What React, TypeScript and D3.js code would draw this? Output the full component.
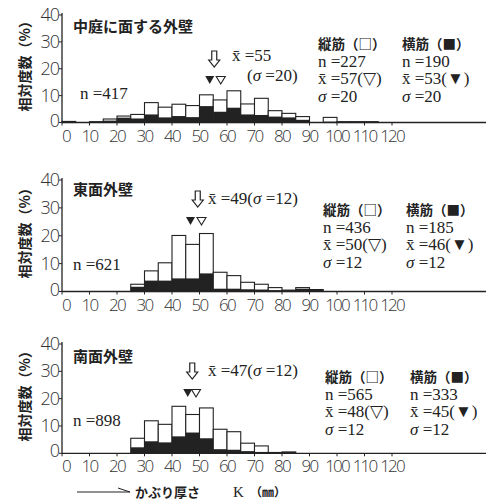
import React from 'react';
import * as d3 from 'd3';

// bin starts (5 mm wide) for cover thickness K
const binStarts = d3.range(0, 120, 5);
const xTicks = d3.range(0, 130, 10);
const yTicks = [0, 10, 20, 30, 40];

// panel 1: 中庭に面する外壁  (total = 縦筋 + 横筋, black = 横筋), %
const courtTotal = [0.4, 0, 0.3, 1.3, 2.4, 3.0, 7.4, 5.7, 6.8, 6.3, 10.3, 8.4, 11.8, 6.9, 9.0, 4.4, 3.4, 2.2, 0, 1.9, 0.3, 0.3, 0.3, 0];
const courtBlack = [0.4, 0, 0.3, 0.7, 1.8, 1.5, 3.0, 1.9, 2.4, 2.0, 6.1, 4.0, 5.5, 3.0, 2.8, 2.2, 1.9, 1.0, 0, 0.3, 0.3, 0.3, 0.3, 0];

// panel 2: 東面外壁
const eastTotal = [0, 0, 0, 0, 0, 2.6, 7.4, 10.3, 20.1, 16.9, 20.8, 6.9, 5.7, 3.3, 2.6, 1.4, 0.5, 1.4, 0.7, 0, 0, 0, 0, 0];
const eastBlack = [0, 0, 0, 0, 0, 1.7, 3.9, 3.9, 4.7, 4.7, 6.5, 1.0, 1.0, 0.8, 0.7, 0.5, 0.5, 1.0, 0.7, 0, 0, 0, 0, 0];

// panel 3: 南面外壁
const southTotal = [0, 0, 0, 0, 0, 5.5, 11.9, 10.6, 17.2, 14.2, 16.6, 8.8, 7.9, 3.7, 2.7, 0.3, 0.5, 0, 0, 0, 0, 0, 0, 0];
const southBlack = [0, 0, 0, 0, 0, 2.2, 4.4, 4.0, 6.2, 7.6, 5.5, 1.5, 1.3, 0.8, 0.5, 0.3, 0.5, 0, 0, 0, 0, 0, 0, 0];

const panelTitles = ['中庭に面する外壁', '東面外壁', '南面外壁'];
const panelN = [417, 621, 898];
const panelMean = [55, 49, 47];
const panelSigma = [20, 12, 12];
const verticalStats = [[227, 57, 20], [436, 50, 12], [565, 48, 12]]; // n, mean, sigma (縦筋)
const horizontalStats = [[190, 53, 20], [185, 46, 12], [333, 45, 12]]; // 横筋

const serif = '"Liberation Serif", "DejaVu Serif", serif';
const thin = '"Open Sans", "DejaVu Sans", sans-serif';
const jp = '"Noto Sans CJK JP", sans-serif';

const x = d3.scaleLinear().domain([0, 120]).range([62, 392]);

const Sigma = () => <tspan fontStyle="italic">σ</tspan>;

const Panel = ({ idx, total, black, top, bottom, titleY, nY, legendY, meanY, legendX }) => {
  const y = d3.scaleLinear().domain([0, 40]).range([bottom, top]);
  const w = x(5) - x(0);
  const mean = panelMean[idx];
  const [vn, vm, vs] = verticalStats[idx];
  const [hn, hm, hs] = horizontalStats[idx];
  const mx = x(mean) + 1;
  const triY = meanY + (idx === 0 ? 15 : 13);
  const arrowTop = meanY - (idx === 0 ? 10 : 13);
  const lh = 17.5;
  return (
    <g>
      {/* y-axis label */}
      <text transform={`translate(30,${(top + bottom) / 2 - 6}) rotate(-90)`} textAnchor="middle"
        fontFamily={jp} fontWeight={700} fontSize={14} fill="#222">相対度数（%）</text>
      {/* bars */}
      {binStarts.map((b, i) => total[i] > 0 && (
        <rect key={'t' + i} x={x(b)} y={y(total[i])} width={w} height={bottom - y(total[i])}
          fill="#fff" stroke="#222" strokeWidth={1.1} />
      ))}
      {binStarts.map((b, i) => black[i] > 0 && (
        <rect key={'b' + i} x={x(b)} y={y(black[i])} width={w} height={bottom - y(black[i])} fill="#222" />
      ))}
      {/* axes */}
      <line x1={x(0)} x2={x(0)} y1={top - 2} y2={bottom} stroke="#222" strokeWidth={1.3} />
      <line x1={x(0)} x2={486} y1={bottom} y2={bottom} stroke="#222" strokeWidth={1.3} />
      {yTicks.map(t => (
        <g key={'y' + t}>
          <line x1={x(0) - 3} x2={x(0)} y1={y(t)} y2={y(t)} stroke="#222" />
          <text x={x(0) - 3} y={y(t) + (t === 0 ? 4 : 6)} textAnchor="end" fontFamily={thin}
            fontWeight={300} fontSize={18} letterSpacing={-1} fill="#333">{t}</text>
        </g>
      ))}
      {xTicks.map(t => (
        <g key={'x' + t}>
          <line x1={x(t)} x2={x(t)} y1={bottom} y2={bottom + 3} stroke="#222" />
          <text x={x(t) + (t === 0 ? 4 : 0)} y={bottom + 19} textAnchor="middle" fontFamily={thin}
            fontWeight={300} fontSize={17} letterSpacing={-1.8} fill="#333">{t}</text>
        </g>
      ))}
      {/* title and n */}
      <text x={73} y={titleY} fontFamily={jp} fontWeight={700} fontSize={15} fill="#222">{panelTitles[idx]}</text>
      <text x={idx === 0 ? 80 : 73} y={nY} fontFamily={serif} fontSize={17} fill="#222">n =<tspan>{panelN[idx]}</tspan></text>
      {/* mean arrow */}
      <path transform={`translate(${mx},${arrowTop})`}
        d="M-2.5,0 H2.5 V9 H5.5 L0,16 L-5.5,9 H-2.5 Z" fill="#fff" stroke="#222" strokeWidth={1.2} />
      <path transform={`translate(${x(hm) + 2},${triY})`} d="M-4.5,0 H4.5 L0,8 Z" fill="#222" />
      <path transform={`translate(${x(vm) + 2},${triY})`} d="M-4.5,0.5 H4.5 L0,8 Z" fill="#fff" stroke="#222" strokeWidth={1.1} />
      {idx === 0 ? (
        <g fontFamily={serif} fontSize={17} fill="#222">
          <text x={232} y={meanY}>x̄ =<tspan>{mean}</tspan></text>
          <text x={247} y={meanY + 20}>(<Sigma /> =<tspan>{panelSigma[idx]}</tspan>)</text>
        </g>
      ) : (
        <text x={208} y={meanY} fontFamily={serif} fontSize={17} fill="#222">x̄ =<tspan>{mean}</tspan>(<Sigma /> =<tspan>{panelSigma[idx]}</tspan>)</text>
      )}
      {/* legend columns */}
      <g fill="#222">
        <text x={legendX[0]} y={legendY} fontFamily={jp} fontWeight={700} fontSize={13.5}>縦筋（□）</text>
        <text x={legendX[1]} y={legendY} fontFamily={jp} fontWeight={700} fontSize={13.5}>横筋（■）</text>
        <g fontFamily={serif} fontSize={17}>
          <text x={legendX[0]} y={legendY + lh}>n =<tspan>{vn}</tspan></text>
          <text x={legendX[0]} y={legendY + lh * 2}>x̄ =<tspan>{vm}</tspan>(▽)</text>
          <text x={legendX[0]} y={legendY + lh * 3}><Sigma /> =<tspan>{vs}</tspan></text>
          <text x={legendX[1]} y={legendY + lh}>n =<tspan>{hn}</tspan></text>
          <text x={legendX[1]} y={legendY + lh * 2}>x̄ =<tspan>{hm}</tspan>(▼)</text>
          <text x={legendX[1]} y={legendY + lh * 3}><Sigma /> =<tspan>{hs}</tspan></text>
        </g>
      </g>
    </g>
  );
};

export default function App() {
  return (
    <svg width={488} height={501} style={{ position: 'absolute', left: 0, top: 0, background: '#fff' }}>
      <rect width={488} height={501} fill="#fff" />
      <Panel idx={0} total={courtTotal} black={courtBlack} top={15} bottom={122.5}
        titleY={32} nY={99} legendY={49} meanY={61} legendX={[318, 402]} />
      <Panel idx={1} total={eastTotal} black={eastBlack} top={180} bottom={291.5}
        titleY={195} nY={270} legendY={215} meanY={204} legendX={[323, 406]} />
      <Panel idx={2} total={southTotal} black={southBlack} top={344} bottom={453.3}
        titleY={362} nY={426} legendY={382} meanY={376} legendX={[325, 410]} />
      {/* x-axis title */}
      <g fill="#222">
        <line x1={77} x2={130} y1={492} y2={492} stroke="#222" strokeWidth={1} />
        <line x1={118} x2={130} y1={488} y2={492} stroke="#222" strokeWidth={1} />
        <text x={135} y={497} fontFamily={jp} fontWeight={700} fontSize={13}>かぶり厚さ</text>
        <text x={233} y={497} fontFamily={serif} fontSize={15}>K</text>
        <text x={250} y={497} fontFamily={jp} fontWeight={700} fontSize={12}>（㎜）</text>
      </g>
    </svg>
  );
}
